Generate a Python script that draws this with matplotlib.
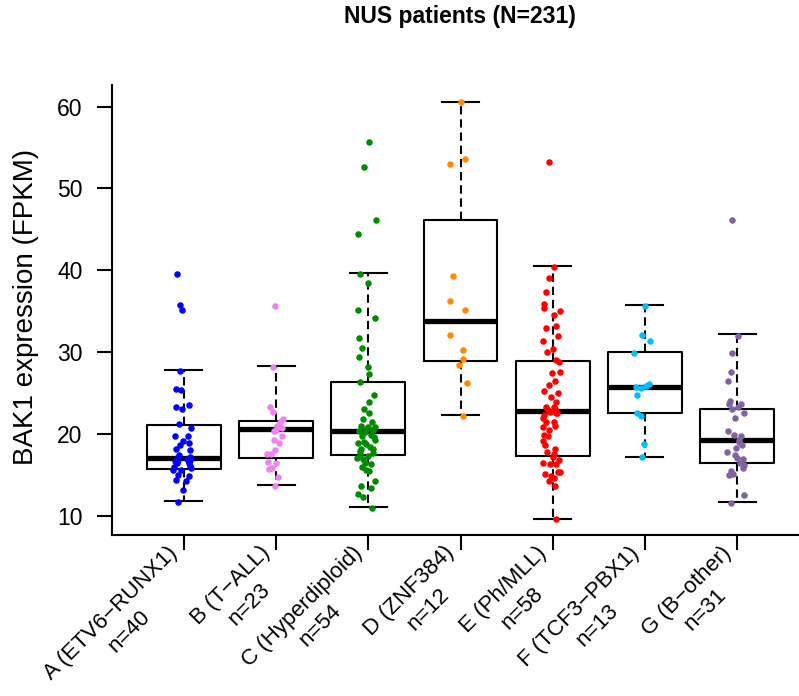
import matplotlib
matplotlib.use("Agg")
import matplotlib.pyplot as plt
import numpy as np

plt.rcParams['font.family'] = ['Liberation Sans', 'DejaVu Sans']
plt.rcParams['lines.scale_dashes'] = False

categories = ["A (ETV6\u2212RUNX1)", "B (T\u2212ALL)", "C (Hyperdiploid)", "D (ZNF384)",
              "E (Ph/MLL)", "F (TCF3\u2212PBX1)", "G (B\u2212other)"]
counts = [40, 23, 54, 12, 58, 13, 31]
colors = ["#0000FF", "#EE82EE", "#008B00", "#FF8C00", "#FF0000", "#00BFFF", "#8064A2"]

# box statistics
q1 = [15.7, 17.1, 17.4, 28.95, 17.3, 22.5, 16.5]
med = [17.0, 20.6, 20.3, 33.8, 22.8, 25.7, 19.2]
q3 = [21.1, 21.55, 26.4, 46.2, 28.9, 30.05, 23.1]
whislo = [11.8, 13.75, 11.1, 22.3, 9.6, 17.2, 11.7]
whishi = [27.8, 28.3, 39.7, 60.6, 40.5, 35.7, 32.2]

# points: values and jitter offsets
vals_A = [39.6, 35.8, 35.2, 27.7, 25.5, 25.4, 23.3, 23.0, 23.5, 21.2, 20.7, 19.8, 19.7, 19.1, 18.9,
          18.2, 18.6, 17.2, 16.7, 16.8, 16.8, 16.4, 16.4, 15.8, 15.6, 15.6, 15.0, 14.9, 14.4, 14.2,
          13.1, 11.7, 17.0, 16.6, 17.0, 16.9, 16.1, 16.0, 17.4, 18.0]
jit_A = [-0.07, -0.04, -0.02, -0.04, -0.09, -0.03, -0.09, -0.02, 0.06, -0.05, 0.08, -0.10, 0.04, -0.01, 0.05,
         -0.09, -0.04, 0.07, -0.10, -0.06, 0.07, 0.05, -0.08, 0.08, -0.12, -0.03, -0.06, 0.05, -0.09, 0.02,
         -0.01, -0.06, 0.08, 0.06, -0.08, 0.03, 0.07, -0.11, -0.05, 0.07]
vals_B = [35.6, 28.2, 23.3, 22.7, 21.8, 21.4, 21.0, 20.7, 20.5, 18.9, 19.2, 18.0, 17.5, 17.6, 16.6,
          16.4, 15.8, 15.7, 14.7, 13.6, 20.8, 20.3, 19.7]
jit_B = [-0.01, -0.03, -0.07, -0.03, 0.08, 0.04, 0.01, 0.06, 0.00, 0.03, -0.02, -0.01, -0.06, -0.10, -0.09,
         0.00, -0.04, -0.08, 0.02, -0.01, 0.04, -0.02, 0.06]
vals_C = [55.7, 52.6, 46.2, 44.4, 39.5, 38.4, 35.1, 34.2, 31.7, 30.5, 29.4, 28.2, 27.3, 26.3, 24.8,
          23.9, 23.1, 22.6, 21.5, 21.0, 20.9, 20.9, 20.3, 20.2, 19.9, 19.8, 19.3, 18.9, 18.8, 18.1,
          18.1, 17.6, 17.0, 16.9, 16.3, 16.0, 15.6, 15.5, 14.2, 13.6, 13.4, 12.7, 12.3, 11.0,
          20.5, 20.6, 19.6, 19.0, 18.4, 17.9, 17.3, 16.5, 17.7, 21.8]
jit_C = [0.01, -0.05, 0.08, -0.11, -0.09, 0.00, -0.11, 0.07, -0.10, -0.07, -0.10, 0.00, 0.01, -0.09, 0.06,
         0.01, -0.05, 0.01, 0.04, -0.08, 0.00, 0.07, -0.10, -0.04, 0.03, -0.07, 0.07, -0.11, -0.02, 0.05,
         -0.08, -0.09, -0.12, -0.06, 0.03, -0.07, -0.02, 0.01, 0.07, -0.08, 0.03, -0.11, -0.06, 0.04,
         0.05, -0.03, 0.06, -0.05, 0.02, -0.09, 0.00, -0.04, 0.05, -0.06]
vals_D = [60.6, 53.0, 53.6, 39.3, 36.3, 35.2, 32.1, 30.2, 29.1, 28.4, 26.2, 22.2]
jit_D = [0.00, -0.11, 0.05, -0.08, -0.11, 0.05, -0.11, 0.03, 0.03, -0.02, 0.07, 0.03]
vals_E = [53.2, 40.4, 39.1, 37.3, 35.9, 35.4, 34.5, 35.0, 33.0, 33.2, 32.0, 31.4, 30.4, 29.0, 28.8,
          27.5, 27.6, 26.0, 25.3, 23.9, 23.3, 23.3, 22.7, 22.0, 21.5, 21.5, 22.6, 20.5, 19.9, 19.8,
          19.1, 18.6, 17.6, 17.2, 16.4, 16.3, 16.3, 15.4, 15.3, 15.1, 14.9, 14.6, 13.6, 9.6,
          22.9, 23.1, 22.5, 22.3, 21.0, 24.5, 25.0, 17.8, 18.2, 14.2, 16.8, 20.8, 26.5, 30.0]
jit_E = [-0.04, 0.01, -0.04, -0.07, -0.09, -0.09, 0.01, 0.08, -0.07, 0.04, 0.06, -0.10, 0.00, 0.04, 0.07,
         -0.01, 0.08, -0.04, -0.09, 0.04, 0.01, -0.07, -0.03, -0.11, -0.07, 0.01, 0.04, -0.04, -0.09, -0.05,
         -0.11, -0.08, 0.01, 0.00, -0.11, -0.03, 0.04, 0.06, 0.08, -0.08, -0.02, 0.01, 0.03, 0.04,
         -0.05, 0.02, 0.05, -0.09, 0.03, -0.02, 0.06, -0.06, 0.03, -0.04, 0.07, -0.10, 0.02, -0.06]
vals_F = [35.6, 32.1, 31.4, 29.9, 26.1, 25.7, 25.6, 24.8, 22.6, 22.2, 18.8, 17.2, 25.8]
jit_F = [0.00, -0.03, 0.06, -0.12, 0.04, -0.10, -0.04, -0.09, -0.09, -0.04, -0.01, -0.03, 0.01]
vals_G = [46.2, 32.0, 29.9, 27.6, 26.5, 23.7, 23.3, 22.5, 21.9, 20.3, 19.7, 19.0, 18.3, 17.8, 17.4,
          16.9, 16.4, 16.2, 15.5, 15.0, 15.1, 12.5, 11.5, 19.3, 19.9, 18.6, 23.0, 23.6, 24.0, 17.0, 15.8]
jit_G = [-0.05, 0.01, -0.05, -0.07, -0.10, -0.09, 0.01, 0.07, -0.02, -0.10, 0.04, 0.02, -0.01, -0.11, -0.02,
         0.06, 0.03, 0.07, -0.07, -0.09, -0.04, 0.08, -0.07, 0.02, -0.03, 0.05, -0.06, 0.04, -0.08, 0.00, 0.06]

values = [vals_A, vals_B, vals_C, vals_D, vals_E, vals_F, vals_G]
jitters = [jit_A, jit_B, jit_C, jit_D, jit_E, jit_F, jit_G]

W, H = 799, 696
fig = plt.figure(figsize=(W / 100, H / 100), dpi=100)
ax_left, ax_right, ax_top, ax_bottom = 112, 809, 85, 535
ax = fig.add_axes([ax_left / W, 1 - ax_bottom / H, (ax_right - ax_left) / W, (ax_bottom - ax_top) / H])

positions = np.arange(1, len(categories) + 1)
stats = []
for i in range(len(categories)):
    stats.append(dict(med=med[i], q1=q1[i], q3=q3[i], whislo=whislo[i], whishi=whishi[i], fliers=[]))

ax.bxp(stats, positions=positions, widths=0.8, capwidths=0.4, showfliers=False,
       boxprops=dict(color='black', linewidth=1.5),
       medianprops=dict(color='black', linewidth=3.8, solid_capstyle='butt'),
       whiskerprops=dict(color='black', linewidth=1.5, linestyle=(0, (6, 3.5))),
       capprops=dict(color='black', linewidth=1.5))

for i in range(len(categories)):
    xs = positions[i] + np.array(jitters[i])
    ax.scatter(xs, values[i], s=22, color=colors[i], linewidths=0, zorder=4)

ax.set_xlim(0.22, 7.78)
ax.set_ylim(7.64, 62.65)
ax.set_yticks([10, 20, 30, 40, 50, 60])
ax.set_xticks(positions)
ax.set_xticklabels([])
for s in ['top', 'right']:
    ax.spines[s].set_visible(False)
for s in ['left', 'bottom']:
    ax.spines[s].set_linewidth(1.5)
ax.tick_params(axis='both', direction='out', length=10.8, width=1.5, labelsize=16.5, pad=10.5)

# two-line rotated category labels (line 2 centred under line 1)
renderer = fig.canvas.get_renderer()
lab_fs = 16
spacing = 26.0                       # px between the two lines, perpendicular to baseline
base_off = np.array([0.0, -24.0])    # block right-centre relative to tick bottom of axes
u = np.array([np.sqrt(0.5), np.sqrt(0.5)])     # baseline direction (display coords)
nrm = np.array([-np.sqrt(0.5), np.sqrt(0.5)])  # "up" direction of rotated text
for i, (cat, n) in enumerate(zip(categories, counts)):
    tmp = fig.text(0, 0, cat, fontsize=lab_fs)
    w1 = tmp.get_window_extent(renderer).width
    tmp.remove()
    off1 = base_off + nrm * spacing / 2
    off2 = base_off - nrm * spacing / 2 - u * w1 / 2
    ax.annotate(cat, xy=(positions[i], 0), xycoords=('data', 'axes fraction'),
                xytext=tuple(off1), textcoords='offset pixels', rotation=45, ha='right', va='center',
                rotation_mode='anchor', fontsize=lab_fs, annotation_clip=False)
    ax.annotate(f"n={n}", xy=(positions[i], 0), xycoords=('data', 'axes fraction'),
                xytext=tuple(off2), textcoords='offset pixels', rotation=45, ha='center', va='center',
                rotation_mode='anchor', fontsize=lab_fs, annotation_clip=False)

fig.text(26 / W, 1 - 307 / H, "BAK1 expression (FPKM)", rotation=90, ha='center', va='center', fontsize=20)
fig.text(460 / W, 1 - 23 / H, "NUS patients (N=231)", ha='center', va='baseline', fontsize=16.5,
         fontweight='bold')

fig.savefig("out.png", dpi=100)
